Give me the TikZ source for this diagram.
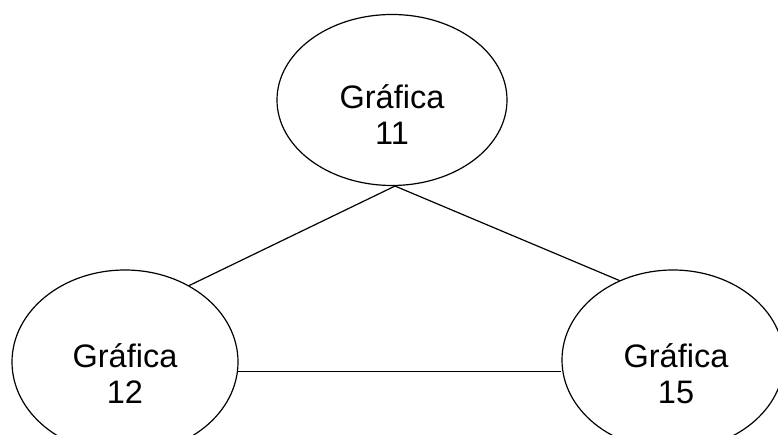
\documentclass[tikz,border=0pt]{standalone}
\usepackage{fontspec}
\setmainfont{Liberation Sans}
\usetikzlibrary{shapes.geometric}
\tikzset{
  grafica/.style={ellipse, draw, line width=1.2pt, inner sep=0pt},
  texto/.style={align=center, inner sep=0pt, font=\fontsize{32.5}{36}\selectfont},
  arista/.style={line width=1.2pt}
}

\begin{document}
\begin{tikzpicture}[x=1pt,y=1pt]
  % Canvas of the picture
  \useasboundingbox (0,0) rectangle (778,435);
  % Graph nodes (text sits a little below the centre)
  \node[grafica, minimum width=230pt, minimum height=171pt] (g11) at (392,335) {};
  \node[grafica, minimum width=226pt, minimum height=184pt] (g12) at (125,73) {};
  \node[grafica, minimum width=222pt, minimum height=180pt] (g15) at (673,75) {};
  \node[texto] (t11) at ([yshift=-15pt]g11.center) {Gráfica\\11};
  \node[texto] (t12) at ([yshift=-12pt]g12.center) {Gráfica\\12};
  \node[texto] (t15) at ([xshift=3pt,yshift=-14pt]g15.center) {Gráfica\\15};
  % Edges
  \draw[arista] (g11.272) -- (g12.50);
  \draw[arista] (g11.272) -- (g15.124);
  \draw[arista] (g12.-5) -- (g12.-5 -| g15.west);
\end{tikzpicture}
\end{document}
